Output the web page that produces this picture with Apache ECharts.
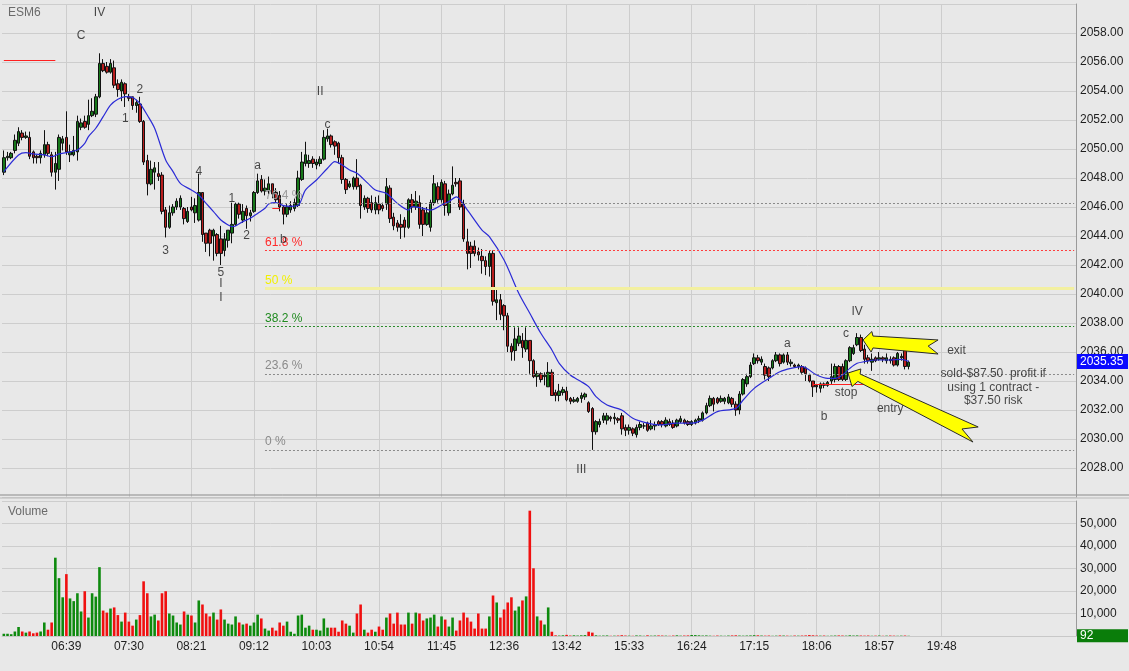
<!DOCTYPE html>
<html>
<head>
<meta charset="utf-8">
<script src="https://cdn.jsdelivr.net/npm/echarts@6/dist/echarts.min.js"></script>
<style>
html,body{margin:0;padding:0;background:#e8e8e8;}
#c{width:1129px;height:671px;}
</style>
</head>
<body>
<div id="c"></div>
<script>
// ---------------- DATA ----------------
const symbolName = 'ESM6';
const timeLabels = ['06:39','07:30','08:21','09:12','10:03','10:54','11:45','12:36','13:42','15:33','16:24','17:15','18:06','18:57','19:48'];
const barsPerLabel = 17;
const slotCount = 292;

// [open, close, low, high] per 3-minute bar
const ohlc = [
[2048.4,2049.4,2048.2,2049.9],[2049.4,2049.5,2049.2,2049.8],[2049.4,2049.7,2049.3,2049.8],[2049.9,2050.6,2049.7,2051.0],
[2050.4,2051.2,2050.2,2051.5],[2051.1,2050.8,2050.6,2051.3],[2050.8,2050.9,2050.7,2051.2],[2050.8,2049.5,2049.3,2051.2],
[2049.8,2049.4,2049.0,2049.9],[2049.5,2049.4,2049.0,2049.6],[2049.4,2049.7,2049.0,2049.9],[2049.6,2050.3,2049.4,2051.3],
[2050.3,2049.7,2049.5,2050.5],[2049.6,2048.4,2048.1,2049.8],[2048.4,2049.0,2047.2,2049.8],[2048.6,2050.8,2047.8,2051.0],
[2050.4,2050.7,2049.9,2050.9],[2050.8,2049.8,2049.6,2052.6],[2049.6,2049.8,2049.1,2050.3],[2049.6,2049.9,2049.5,2050.9],
[2049.8,2051.9,2049.2,2052.3],[2051.5,2051.8,2051.3,2052.1],[2051.9,2051.5,2051.4,2052.3],[2051.7,2052.3,2051.3,2053.4],
[2052.3,2052.6,2052.2,2053.5],[2052.4,2053.6,2052.2,2053.8],[2053.6,2055.9,2053.5,2056.6],[2055.9,2055.4,2055.3,2056.2],
[2055.7,2055.3,2055.2,2056.0],[2055.3,2055.9,2055.2,2056.2],[2055.6,2054.4,2054.2,2056.1],[2054.5,2054.1,2053.6,2054.8],
[2054.0,2054.6,2053.3,2054.8],[2054.5,2053.8,2052.9,2054.6],[2053.6,2053.5,2053.3,2053.8],[2053.6,2053.0,2052.7,2053.6],
[2053.0,2053.2,2052.5,2053.4],[2053.1,2051.9,2051.8,2053.6],[2051.9,2049.1,2048.9,2052.0],[2049.2,2047.6,2046.8,2049.6],
[2047.6,2048.6,2047.5,2049.2],[2048.4,2048.7,2047.2,2049.1],[2048.3,2048.1,2047.8,2049.1],[2048.2,2045.7,2045.5,2048.4],
[2045.8,2044.6,2043.9,2046.0],[2044.6,2045.6,2044.5,2046.1],[2045.6,2046.0,2045.4,2046.2],[2046.0,2046.4,2045.8,2046.6],
[2046.0,2046.6,2045.8,2046.8],[2045.9,2045.2,2044.8,2046.0],[2045.0,2045.7,2044.9,2046.0],[2046.0,2045.8,2045.7,2046.7],
[2045.6,2046.1,2044.9,2046.6],[2045.1,2047.0,2045.0,2048.3],[2047.0,2044.1,2043.6,2047.0],[2044.2,2043.5,2042.9,2044.2],
[2044.4,2043.5,2042.6,2044.5],[2044.0,2044.4,2042.3,2044.5],[2044.1,2042.8,2042.6,2044.2],[2043.8,2042.8,2042.0,2044.7],
[2043.0,2043.8,2042.6,2044.2],[2043.7,2044.4,2043.2,2044.4],[2044.2,2044.8,2043.5,2046.3],[2044.8,2046.2,2044.7,2046.3],
[2046.2,2045.5,2045.2,2046.3],[2045.1,2045.7,2044.9,2046.2],[2045.9,2045.4,2044.5,2046.1],[2045.4,2045.6,2045.0,2045.8],
[2045.7,2047.0,2045.6,2047.1],[2047.0,2047.8,2046.9,2048.3],[2047.9,2047.1,2047.0,2048.2],[2047.1,2047.3,2046.8,2047.9],
[2047.1,2047.6,2046.9,2048.1],[2047.6,2046.9,2046.6,2047.6],[2047.0,2046.5,2046.3,2047.3],[2046.8,2046.0,2045.7,2047.1],
[2046.0,2045.5,2044.8,2046.1],[2045.5,2046.0,2045.3,2046.2],[2045.8,2046.1,2045.6,2046.4],[2045.9,2046.3,2045.7,2046.6],
[2046.1,2048.0,2046.0,2048.5],[2047.9,2049.1,2047.8,2049.8],[2049.0,2049.6,2048.8,2050.5],[2049.0,2049.2,2048.7,2049.6],
[2049.3,2049.0,2048.7,2049.5],[2048.9,2049.1,2048.6,2049.3],[2049.0,2049.3,2048.8,2049.5],[2049.3,2050.8,2049.2,2051.3],
[2050.7,2050.9,2050.5,2051.4],[2050.9,2050.3,2050.1,2051.0],[2050.5,2050.2,2049.6,2050.6],[2050.4,2049.4,2049.0,2050.5],
[2049.4,2047.9,2047.6,2049.6],[2047.9,2047.2,2046.9,2048.0],[2047.4,2047.6,2047.3,2047.8],[2047.4,2048.0,2047.2,2048.1],
[2048.0,2047.4,2047.2,2049.3],[2047.5,2046.1,2045.2,2047.6],[2046.0,2046.6,2045.8,2046.8],[2046.6,2045.9,2045.6,2046.7],
[2046.3,2045.8,2045.6,2046.8],[2045.8,2046.3,2045.5,2046.7],[2046.2,2045.8,2045.5,2046.8],[2046.1,2045.9,2045.7,2046.3],
[2046.2,2047.4,2045.8,2048.0],[2047.3,2045.2,2044.9,2047.5],[2045.3,2044.7,2044.4,2045.6],[2044.9,2044.6,2044.3,2045.1],
[2044.8,2044.6,2043.8,2045.5],[2045.1,2044.6,2043.9,2045.3],[2044.6,2046.5,2044.5,2046.6],[2046.5,2046.0,2045.6,2046.9],
[2046.0,2046.4,2045.8,2047.1],[2046.3,2044.8,2044.5,2046.8],[2045.8,2044.8,2044.0,2046.0],[2044.8,2045.6,2044.7,2046.0],
[2044.6,2046.3,2044.3,2046.5],[2046.3,2047.6,2046.1,2048.2],[2047.4,2046.5,2046.3,2047.7],[2046.5,2047.7,2046.3,2047.9],
[2047.6,2046.1,2045.4,2047.8],[2045.6,2046.9,2045.4,2047.2],[2046.9,2047.5,2046.8,2048.8],[2047.7,2047.6,2047.4,2048.0],
[2047.8,2046.0,2045.8,2048.0],[2046.2,2043.8,2043.6,2046.5],[2043.6,2042.8,2041.7,2044.5],[2043.3,2042.8,2041.8,2043.6],
[2043.3,2042.8,2042.6,2043.7],[2042.9,2042.7,2042.3,2043.2],[2042.6,2042.3,2041.4,2043.1],[2042.3,2041.9,2041.3,2042.6],
[2041.9,2042.8,2041.2,2043.0],[2042.8,2039.5,2039.2,2043.0],[2039.4,2039.6,2038.2,2040.4],[2039.6,2038.6,2038.2,2040.0],
[2039.2,2038.5,2037.5,2039.3],[2038.5,2036.4,2036.0,2038.7],[2036.4,2036.0,2035.4,2036.6],[2036.1,2036.9,2035.4,2037.7],
[2036.6,2037.1,2036.4,2037.7],[2036.8,2036.3,2035.6,2037.3],[2036.2,2036.8,2036.0,2037.7],[2036.8,2035.4,2034.5,2036.8],
[2035.4,2034.3,2034.2,2035.5],[2034.3,2034.5,2033.6,2034.7],[2034.5,2034.1,2033.9,2034.6],[2034.3,2034.4,2033.7,2034.6],
[2033.6,2034.6,2033.6,2035.3],[2034.6,2033.0,2033.0,2034.8],[2033.2,2033.0,2032.6,2033.4],[2033.0,2033.3,2032.6,2033.8],
[2033.2,2033.4,2033.0,2033.6],[2033.3,2032.7,2032.6,2033.6],[2032.8,2032.6,2032.4,2032.9],[2032.6,2032.7,2032.5,2032.9],
[2032.6,2032.8,2032.5,2032.9],[2032.8,2033.0,2032.5,2033.2],[2032.9,2033.1,2032.7,2033.2],[2032.5,2031.9,2031.8,2032.6],
[2032.1,2030.5,2029.25,2032.2],[2030.5,2031.2,2030.3,2031.3],[2031.0,2031.2,2030.8,2031.4],[2031.3,2031.6,2031.1,2031.8],
[2031.3,2031.6,2031.0,2031.8],[2031.5,2031.4,2031.2,2031.6],[2031.4,2031.5,2031.0,2031.8],[2031.4,2031.3,2031.1,2031.5],
[2031.6,2030.7,2030.3,2031.8],[2030.8,2030.6,2030.2,2031.0],[2030.6,2030.8,2030.3,2031.0],[2030.7,2030.4,2030.2,2030.8],
[2030.3,2030.8,2030.1,2031.0],[2030.8,2031.0,2030.6,2031.2],[2030.9,2030.9,2030.7,2031.1],[2031.1,2030.6,2030.5,2031.2],
[2030.7,2030.9,2030.6,2031.3],[2030.9,2031.0,2030.6,2031.2],[2031.2,2031.0,2030.9,2031.3],[2031.2,2031.0,2030.8,2031.3],
[2030.9,2031.3,2030.8,2031.5],[2031.2,2031.0,2030.9,2031.4],[2031.1,2030.8,2030.7,2031.3],[2030.9,2031.3,2030.8,2031.4],
[2031.2,2031.4,2031.1,2031.6],[2031.3,2031.1,2031.0,2031.4],[2031.2,2031.0,2030.9,2031.3],[2031.0,2031.2,2030.9,2031.3],
[2031.1,2031.3,2031.0,2031.4],[2031.3,2031.4,2031.1,2031.6],[2031.3,2031.8,2031.2,2031.9],[2031.8,2032.3,2031.7,2032.5],
[2032.3,2032.8,2032.2,2033.0],[2032.8,2032.4,2031.9,2032.9],[2032.8,2032.5,2032.4,2032.9],[2032.6,2032.8,2032.5,2033.0],
[2032.6,2032.8,2032.4,2032.9],[2032.5,2032.9,2032.4,2033.1],[2032.8,2032.4,2032.2,2032.9],[2032.4,2032.0,2031.6,2032.6],
[2032.0,2033.1,2031.7,2033.3],[2033.1,2034.1,2033.0,2034.2],[2033.8,2034.3,2033.6,2034.5],[2034.3,2035.1,2034.2,2035.3],
[2035.2,2035.6,2035.1,2035.9],[2035.6,2035.4,2035.2,2035.8],[2035.3,2035.5,2035.1,2035.7],[2035.0,2034.4,2034.1,2035.2],
[2034.9,2034.3,2034.0,2035.0],[2034.9,2035.4,2034.8,2035.5],[2035.4,2035.8,2035.3,2036.0],[2035.8,2035.2,2035.0,2035.9],
[2035.3,2035.8,2035.2,2035.9],[2035.8,2035.3,2035.1,2036.0],[2035.2,2035.3,2035.0,2035.5],[2035.1,2035.0,2034.9,2035.2],
[2035.0,2035.1,2034.8,2035.2],[2035.0,2034.6,2034.5,2035.1],[2034.9,2034.5,2034.0,2035.0],[2034.4,2034.0,2033.9,2034.5],
[2034.0,2033.6,2032.9,2034.0],[2033.7,2033.6,2033.2,2033.8],[2033.5,2033.8,2033.2,2033.9],[2033.8,2033.7,2033.5,2033.9],
[2033.7,2033.9,2033.6,2034.0],[2034.0,2034.3,2033.8,2035.2],[2034.1,2035.0,2033.9,2035.2],[2035.0,2034.1,2034.0,2035.1],
[2035.0,2034.1,2034.0,2035.2],[2034.1,2035.4,2034.0,2035.5],[2035.4,2036.3,2035.3,2036.4],[2035.9,2036.3,2035.8,2036.5],
[2036.5,2037.0,2036.4,2037.3],[2037.0,2036.1,2036.0,2037.2],[2036.2,2035.5,2035.2,2036.5],[2035.6,2035.4,2035.2,2035.8],
[2035.3,2035.5,2034.7,2035.9],[2035.6,2035.4,2035.3,2035.7],[2035.5,2035.6,2035.4,2036.0],[2035.6,2035.5,2035.3,2035.7],
[2035.4,2035.6,2035.2,2035.9],[2035.5,2035.4,2035.2,2035.7],[2035.6,2035.1,2035.0,2035.7],[2035.1,2035.9,2035.0,2036.0],
[2035.6,2035.7,2035.4,2035.9],[2036.4,2035.0,2034.8,2036.4],[2035.0,2035.3,2034.8,2035.4]
];

const volume = [
1000,1000,800,2000,4000,2000,1500,2000,1200,1500,2000,6000,2800,6000,34800,25700,17200,27500,16700,15500,
19000,10900,19900,8200,19000,17500,30600,11300,10400,12200,12700,9300,6400,10400,6400,4600,7300,9300,24300,19000,
8700,9500,6900,19000,19900,10000,9100,6000,5100,10900,9500,9100,6000,15800,14000,10000,8700,10400,7300,11800,
7300,5500,5100,8700,6000,5100,5500,4600,6000,9500,7800,3300,2400,3700,2400,6000,4600,6400,1900,1000,
9100,9500,3700,4600,2800,2800,2400,7800,3700,3700,3700,1900,6900,5500,4600,1500,10000,14000,2800,1500,
2800,1900,4200,2800,8200,10000,5500,10400,5100,5100,10400,5500,10400,10000,6900,7800,8200,9500,4200,8700,
7300,4200,8200,2400,6900,10400,8200,6400,3300,10000,3300,3300,8700,18000,14900,8200,11800,14900,17200,11300,
13100,15800,17600,55700,30100,8700,6900,5100,12700,1900,300,200,300,500,200,300,200,300,400,1900,
1500,300,150,200,250,100,150,200,350,200,150,100,250,200,100,300,150,200,250,200,
150,100,200,300,150,200,250,450,400,300,200,250,150,100,200,150,100,200,250,300,
200,150,200,250,350,300,200,150,200,100,150,250,200,150,100,200,150,200,250,400,
300,200,150,200,100,150,200,250,200,150,300,200,250,200,150,200,100,150,200,100,
150,200,150,100,150,200,92
];

// moving average: [bar index, price]
const maPoints = [
[0,2048.44],[4,2049.59],[6,2049.75],[8,2049.66],[11,2049.59],[13,2049.47],[15,2049.66],[17,2049.75],[20,2049.93],
[22,2050.39],[23,2050.85],[25,2051.43],[27,2052.23],[29,2053.03],[31,2053.43],[33,2053.61],[35,2053.56],[36,2053.38],
[37,2053.15],[39,2052.34],[41,2051.43],[44,2049.24],[46,2048.44],[48,2047.63],[51,2047.17],[53,2046.83],[55,2046.25],
[57,2045.68],[59,2045.10],[61,2044.76],[62,2044.64],[63,2044.69],[65,2044.99],[67,2045.22],[69,2045.56],[71,2045.91],
[72,2046.21],[74,2046.30],[76,2046.10],[78,2046.05],[80,2046.10],[82,2047.17],[85,2047.86],[88,2048.67],[90,2049.13],
[92,2048.90],[94,2048.55],[96,2048.32],[99,2047.63],[101,2047.17],[104,2046.94],[107,2046.25],[110,2045.79],[111,2046.02],
[114,2045.91],[116,2045.79],[119,2046.14],[121,2046.37],[123,2046.70],[126,2045.80],[128,2045.10],[130,2044.41],[132,2043.95],
[136,2042.34],[140,2040.05],[143,2038.67],[146,2037.29],[149,2036.14],[151,2035.22],[154,2034.41],[157,2033.95],[159,2033.61],
[161,2032.92],[164,2032.34],[168,2032.00],[171,2031.43],[175,2031.09],[178,2030.97],[183,2031.09],[187,2031.09],[190,2031.30],
[194,2031.89],[199,2032.11],[201,2032.69],[204,2033.49],[208,2034.18],[211,2034.64],[214,2034.87],[217,2034.99],[221,2034.41],
[224,2034.18],[226,2034.18],[228,2034.41],[230,2034.87],[232,2035.22],[234,2035.33],[237,2035.45],[241,2035.45],[244,2035.49],
[246,2035.35]
];
const maLast = 2035.35;
const volumeLast = 92;

// Fibonacci retracement levels
const fibNames = ['0 %','23.6 %','38.2 %','50 %','61.8 %','76.4 %'];
const fibValues = [2029.25, 2034.5, 2037.75, 2040.375, 2043.0, 2046.25];
const fibStartBar = 71;

// wave / trade notes: [bar index, price, text]
const notes = [
[26,2059.38,'IV'],[21,2057.8,'C'],[37,2054.07,'2'],[33,2052.07,'1'],[53,2048.41,'4'],[44,2042.97,'3'],
[59,2041.45,'5'],[59,2040.69,'I'],[59,2039.72,'I'],[62,2046.55,'1'],[66,2044.0,'2'],[69,2048.83,'a'],
[76,2043.72,'b'],[86,2053.93,'II'],[88,2051.66,'c'],[157,2027.86,'III'],[213,2036.55,'a'],[223,2031.52,'b'],
[232,2038.76,'IV'],[229,2037.24,'c'],[229,2033.17,'stop'],[241,2032.07,'entry'],[259,2036.07,'exit'],
[269,2034.48,'sold-$87.50  profit if'],[269,2033.54,'using 1 contract -'],[269,2032.62,'$37.50 risk']
];

// red level lines: [start bar, end bar, price]
const redLines = [[0,14,2056.1],[73,75,2045.9],[220,238,2033.75]];

// yellow arrows, outline in [bar index, price]
const exitArrow = [[233.6,2036.83],[236.0,2037.41],[236.3,2037.10],[254.0,2036.83],[251.3,2036.41],[254.0,2035.86],[236.3,2036.28],[235.8,2036.0]];
const entryArrow = [[229.5,2034.55],[233.0,2034.83],[232.8,2034.48],[264.9,2030.83],[260.5,2030.69],[263.5,2029.79],[232.2,2033.97],[230.6,2033.62]];

// ---------------- CHART ----------------
const FONT = 'Liberation Sans, Arial, sans-serif';
const chart = echarts.init(document.getElementById('c'));
const cats = [];
for (let i = 0; i < slotCount; i++) cats.push(i);

const isLabelSlot = (idx) => idx > 0 && idx % barsPerLabel === 0 && idx / barsPerLabel <= timeLabels.length;
const UP = '#17781a', DOWN = '#b81d1d';
const VUP = '#0e8a0e', VDOWN = '#f01010';

const fibStyles = [
  {color:'#8a8a8a', type:[2,2], width:1, text:'#8a8a8a'},
  {color:'#8a8a8a', type:[2,2], width:1, text:'#8a8a8a'},
  {color:'#2a8a2a', type:[2,2], width:1, text:'#1f8a1f'},
  {color:'#f3f0a0', type:'solid', width:3, text:'#f2f000'},
  {color:'#ff3c3c', type:[2,2], width:1, text:'#ff2a2a'},
  {color:'#8a8a8a', type:[2,2], width:1, text:'#9a9a9a'}
];

const markLines = [];
fibValues.forEach((v, k) => {
  const s = fibStyles[k];
  markLines.push([
    {coord:[fibStartBar, v], lineStyle:{color:s.color, type:s.type, width:s.width},
     label:{show:true, position:'insideStartTop', formatter:fibNames[k], color:s.text, fontSize:12, fontFamily:FONT, distance:[0,2]}},
    {coord:[slotCount-1, v]}
  ]);
});
redLines.forEach(r => {
  markLines.push([
    {coord:[r[0], r[2]], lineStyle:{color:'#ff2020', type:'solid', width:1}, label:{show:false}},
    {coord:[r[1], r[2]]}
  ]);
});

const volData = volume.map((v, i) => ({
  value: v,
  itemStyle: {color: (ohlc[i] && ohlc[i][1] >= ohlc[i][0]) ? VUP : VDOWN}
}));

const xAxisBase = {
  type:'category', data:cats, boundaryGap:true,
  axisTick:{show:false, alignWithLabel:true},
  axisLine:{show:false},
  splitLine:{show:true, interval:(i)=>isLabelSlot(i), alignWithLabel:true, lineStyle:{color:'#cdcdcd', width:1}}
};

chart.setOption({
  animation:false,
  backgroundColor:'#e8e8e8',
  textStyle:{fontFamily:FONT},
  grid:[
    {left:2, right:53, top:4, height:493},
    {left:2, right:53, top:501, height:135}
  ],
  xAxis:[
    Object.assign({}, xAxisBase, {gridIndex:0, axisLabel:{show:false}}),
    Object.assign({}, xAxisBase, {gridIndex:1,
      axisLine:{show:true, lineStyle:{color:'#c8c8c8'}},
      axisLabel:{show:true, interval:(i)=>isLabelSlot(i), formatter:(v, i)=>timeLabels[i/barsPerLabel-1] || '',
        color:'#1e1e1e', fontSize:12, fontFamily:FONT, margin:5}})
  ],
  yAxis:[
    {gridIndex:0, type:'value', position:'right', min:2026, max:2060, interval:2,
     axisLine:{show:true, lineStyle:{color:'#9a9a9a'}}, axisTick:{show:false},
     axisLabel:{showMinLabel:false, showMaxLabel:false, formatter:(v)=>v.toFixed(2), color:'#1e1e1e', fontSize:12, fontFamily:FONT, margin:4},
     splitLine:{show:true, lineStyle:{color:'#cdcdcd'}}},
    {gridIndex:1, type:'value', position:'right', min:0, max:60000, interval:10000,
     axisLine:{show:true, lineStyle:{color:'#9a9a9a'}}, axisTick:{show:false},
     axisLabel:{showMinLabel:false, showMaxLabel:false, formatter:(v)=>v.toLocaleString('en-US'), color:'#1e1e1e', fontSize:12, fontFamily:FONT, margin:4},
     splitLine:{show:true, lineStyle:{color:'#cdcdcd'}}}
  ],
  series:[
    {
      name:'price', type:'candlestick', xAxisIndex:0, yAxisIndex:0, data:ohlc, barWidth:3,
      itemStyle:{color:UP, color0:DOWN, borderColor:'#111', borderColor0:'#111', borderWidth:1},
      markLine:{silent:true, symbol:['none','none'], data:markLines}
    },
    {
      name:'ma', type:'line', xAxisIndex:0, yAxisIndex:0, data:maPoints, smooth:0.3, showSymbol:false,
      lineStyle:{color:'#2b2bd6', width:1.2}, z:3,
      markLine:{silent:true, symbol:['none','none'],
        data:[{yAxis:maLast, lineStyle:{color:'rgba(0,0,0,0)', width:0},
          label:{show:true, position:'end', distance:1, formatter:maLast.toFixed(2),
          backgroundColor:'#0a0aff', color:'#ffffff', fontSize:12, fontFamily:FONT, padding:[2,4,1,3], width:44}}]}
    },
    {
      name:'volume', type:'bar', xAxisIndex:1, yAxisIndex:1, data:volData, barWidth:2.6,
      markLine:{silent:true, symbol:['none','none'],
        data:[{yAxis:volumeLast, lineStyle:{color:'rgba(0,0,0,0)', width:0},
          label:{show:true, position:'end', distance:1, formatter:String(volumeLast),
          backgroundColor:'#0a7d0a', color:'#ffffff', fontSize:12, fontFamily:FONT, padding:[1,4,0,3], width:44}}]}
    },
    {
      name:'notes', type:'scatter', xAxisIndex:0, yAxisIndex:0, symbolSize:0, z:6,
      data:notes.map(n => ({value:[n[0], n[1]], name:n[2]})),
      label:{show:true, position:'inside', formatter:(p)=>p.name, color:'#1a1a1a', fontSize:12, fontFamily:FONT}
    }
  ]
});

// arrows through the chart's own scales
function toPx(fi, price) {
  const i0 = Math.floor(fi);
  const a = chart.convertToPixel({xAxisIndex:0, yAxisIndex:0}, [i0, price]);
  const b = chart.convertToPixel({xAxisIndex:0, yAxisIndex:0}, [i0 + 1, price]);
  return [a[0] + (fi - i0) * (b[0] - a[0]), a[1]];
}
const arrowStyle = {fill:'#ffff00', stroke:'#2a2a2a', lineWidth:1};
chart.setOption({
  graphic:[
    {type:'text', left:8, top:7, style:{text:symbolName, fill:'#6a6a6a', font:'12px ' + FONT}},
    {type:'text', left:8, top:506, style:{text:'Volume', fill:'#6a6a6a', font:'12px ' + FONT}},
    {type:'line', shape:{x1:0, y1:495, x2:1129, y2:495}, style:{stroke:'#8a8a8a', lineWidth:1}},
    {type:'line', shape:{x1:0, y1:498, x2:1129, y2:498}, style:{stroke:'#b8b8b8', lineWidth:1}},
    {type:'polygon', z:10, shape:{points:exitArrow.map(p => toPx(p[0], p[1]))}, style:arrowStyle},
    {type:'polygon', z:10, shape:{points:entryArrow.map(p => toPx(p[0], p[1]))}, style:arrowStyle}
  ]
});
</script>
</body>
</html>
